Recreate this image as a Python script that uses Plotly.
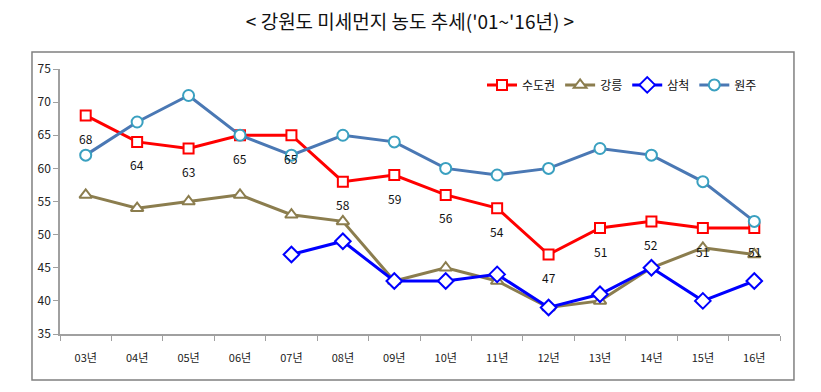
import plotly.graph_objects as go

years = ["03년", "04년", "05년", "06년", "07년", "08년", "09년", "10년", "11년", "12년", "13년", "14년", "15년", "16년"]
sudogwon = [68, 64, 63, 65, 65, 58, 59, 56, 54, 47, 51, 52, 51, 51]
gangneung = [56, 54, 55, 56, 53, 52, 43, 45, 43, 39, 40, 45, 48, 47]
samcheok = [None, None, None, None, 47, 49, 43, 43, 44, 39, 41, 45, 40, 43]
wonju = [62, 67, 71, 65, 62, 65, 64, 60, 59, 60, 63, 62, 58, 52]

FONT = "Noto Sans CJK KR"

fig = go.Figure()

fig.add_trace(go.Scatter(
    x=years, y=sudogwon, name="수도권", mode="lines+markers",
    line=dict(color="#FF0000", width=3),
    marker=dict(symbol="square", size=10, color="white", line=dict(color="#FF0000", width=2)),
))
fig.add_trace(go.Scatter(
    x=years, y=gangneung, name="강릉", mode="lines+markers",
    line=dict(color="#8B7D4E", width=3),
    marker=dict(symbol="triangle-up", size=11, color="white", line=dict(color="#8B7D4E", width=2)),
))
fig.add_trace(go.Scatter(
    x=years, y=samcheok, name="삼척", mode="lines+markers",
    line=dict(color="#0000FF", width=3),
    marker=dict(symbol="diamond", size=12, color="white", line=dict(color="#0000FF", width=2)),
))
fig.add_trace(go.Scatter(
    x=years, y=wonju, name="원주", mode="lines+markers",
    line=dict(color="#4A78B4", width=3),
    marker=dict(symbol="circle", size=11, color="white", line=dict(color="#3AA0C0", width=2)),
))

for yr, v in zip(years, sudogwon):
    fig.add_annotation(x=yr, y=v, text=str(v), showarrow=False, yshift=-23,
                       font=dict(family=FONT, size=12, color="#111111"))

# outer frame
fig.add_shape(type="rect", xref="paper", yref="paper",
              x0=-0.0389, x1=1.0194, y0=-0.1736, y1=1.0642,
              line=dict(color="#808080", width=1.5), fillcolor="rgba(0,0,0,0)", layer="below")

W, H = 813, 384
fig.update_layout(
    width=W, height=H,
    margin=dict(l=52, r=41, t=61, b=58),
    paper_bgcolor="white", plot_bgcolor="white",
    font=dict(family=FONT, size=12, color="#222222"),
    title=dict(text="< 강원도 미세먼지 농도 추세('01~'16년) >",
               x=402 / W, xanchor="center", y=1 - 14 / H, yanchor="middle",
               font=dict(family=FONT, size=19, color="#111111")),
    showlegend=True,
    legend=dict(orientation="h", x=0.975, xanchor="right", y=0.94, yanchor="middle",
                font=dict(family=FONT, size=12, color="#111111"),
                bgcolor="rgba(0,0,0,0)", traceorder="normal"),
    xaxis=dict(type="category", range=[-0.5, 13.5], showgrid=False,
               showline=True, linecolor="#A0A0A0", linewidth=1.5,
               ticks="outside", tickson="boundaries", ticklen=5, tickcolor="#A0A0A0",
               ticklabelstandoff=13, tickfont=dict(family=FONT, size=11, color="#222222")),
    yaxis=dict(range=[35, 75], dtick=5, showgrid=False, zeroline=False,
               showline=True, linecolor="#A0A0A0", linewidth=1.5,
               ticks="outside", ticklen=5, tickcolor="#A0A0A0",
               tickfont=dict(family=FONT, size=12, color="#222222")),
)

fig.write_html("out.html")
